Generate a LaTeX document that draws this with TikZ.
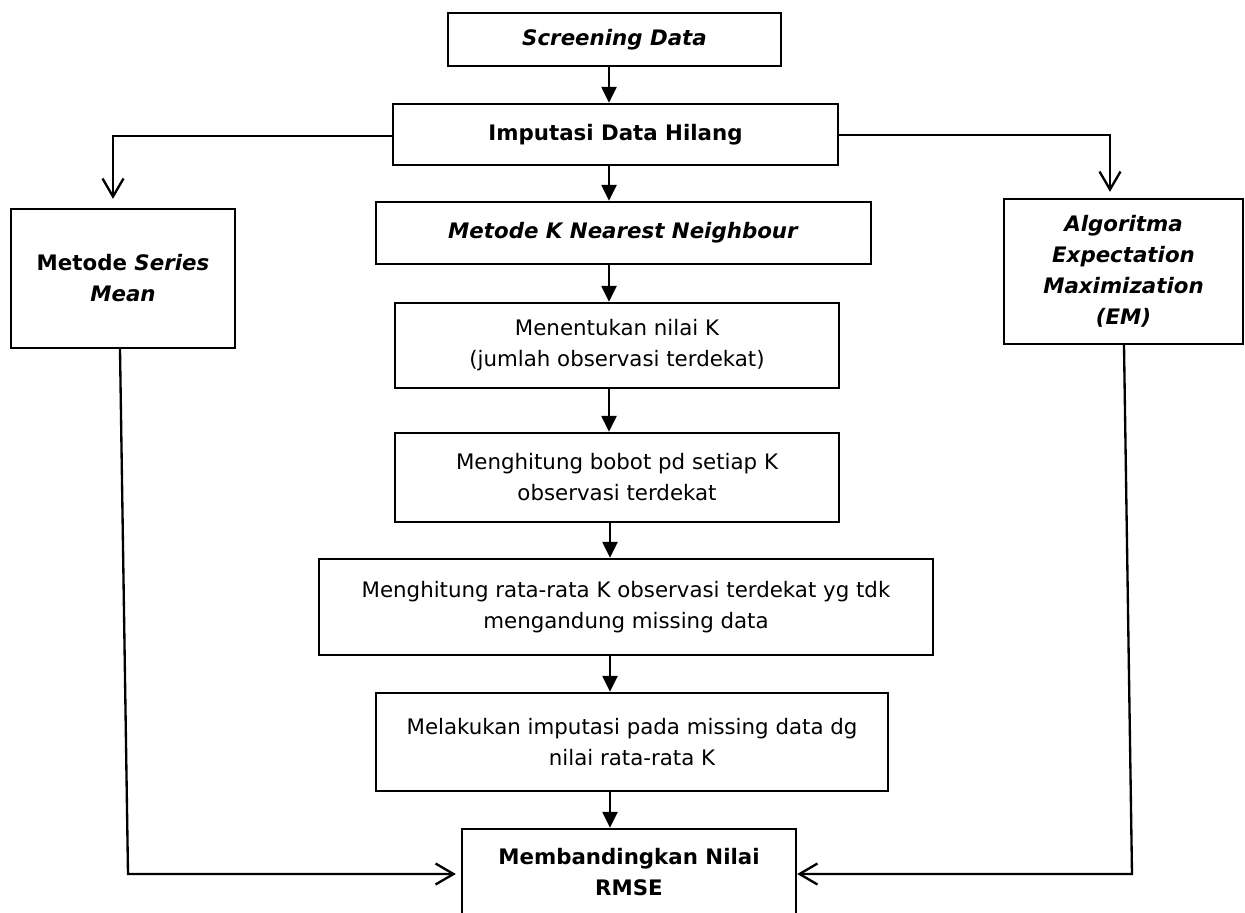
\documentclass[tikz,border=0pt]{standalone}
\usepackage{fontspec}
\setmainfont{DejaVu Sans}[BoldFont={DejaVu Sans Bold},ItalicFont={DejaVu Sans Oblique},BoldItalicFont={DejaVu Sans Bold Oblique}]
\usetikzlibrary{arrows.meta}
\begin{document}
\begin{tikzpicture}[x=0.6pt,y=-0.6pt,
  box/.style={draw, line width=1.4pt, rectangle, inner sep=0pt, align=center,
    font=\fontsize{12.8pt}{18.6pt}\selectfont},
  flow/.style={line width=1.4pt, -{Triangle[length=9.6pt,width=9pt]}},
  side/.style={line width=1.4pt, line join=miter, -{Straight Barb[length=10.8pt,width=12.6pt]}}]
\useasboundingbox (0,0) rectangle (1245,913);
\clip (0,0) rectangle (1245,913);
\fill[white] (0,0) rectangle (1245,913);

\node[box, minimum width=199.8pt, minimum height=31.8pt] (scr) at (614.5,39.5) {\textbf{\textit{Screening Data}}};
\node[box, minimum width=267pt, minimum height=36.6pt] (imp) at (615.5,134.5) {\textbf{Imputasi Data Hilang}};
\node[box, minimum width=297pt, minimum height=37.2pt] (knn) at (623.5,233) {\textbf{\textit{Metode K Nearest Neighbour}}};
\node[box, minimum width=266.4pt, minimum height=51pt] (men) at (617,345.5) {Menentukan nilai K\\(jumlah observasi terdekat)};
\node[box, minimum width=266.4pt, minimum height=53.4pt] (bob) at (617,477.5) {Menghitung bobot pd setiap K\\observasi terdekat};
\node[box, minimum width=368.4pt, minimum height=57.6pt] (rat) at (626,607) {Menghitung rata-rata K observasi terdekat yg tdk\\mengandung missing data};
\node[box, minimum width=307.2pt, minimum height=58.8pt] (mel) at (632,742) {Melakukan imputasi pada missing data dg\\nilai rata-rata K};
\node[box, minimum width=200.4pt, minimum height=51.6pt] (bnd) at (629,872) {\textbf{Membandingkan Nilai}\\\textbf{RMSE}};
\node[box, minimum width=134.4pt, minimum height=83.4pt] (lb) at (123,278.5) {\textbf{Metode \textit{Series}}\\\textbf{\textit{Mean}}};
\node[box, minimum width=143.4pt, minimum height=87pt] (rb) at (1123.5,271.5) {\textbf{\textit{Algoritma}}\\\textbf{\textit{Expectation}}\\\textbf{\textit{Maximization}}\\\textbf{\textit{(EM)}}};

\coordinate (cx) at (609,0);
\coordinate (cy) at (610,0);
\draw[flow] (scr.south -| cx) -- (imp.north -| cx);
\draw[flow] (imp.south -| cx) -- (knn.north -| cx);
\draw[flow] (knn.south -| cx) -- (men.north -| cx);
\draw[flow] (men.south -| cx) -- (bob.north -| cx);
\draw[flow] (bob.south -| cy) -- (rat.north -| cy);
\draw[flow] (rat.south -| cy) -- (mel.north -| cy);
\draw[flow] (mel.south -| cy) -- (bnd.north -| cy);

\coordinate (lt) at (113,136);
\coordinate (rt) at (1110,135);
\draw[side, shorten >=5.4pt] (imp.west |- lt) -- (lt) -- (lb.north -| lt);
\draw[side, shorten >=3.6pt] (imp.east |- rt) -- (rt) -- (rb.north -| rt);

\coordinate (lbx) at (120,0);
\coordinate (lbc) at (128,874);
\coordinate (rbx) at (1124,0);
\coordinate (rbc) at (1132,874);
\draw[side, shorten >=3pt] (lb.south -| lbx) -- (lbc) -- (bnd.west |- lbc);
\draw[side] (rb.south -| rbx) -- (rbc) -- (bnd.east |- rbc);
\end{tikzpicture}
\end{document}
